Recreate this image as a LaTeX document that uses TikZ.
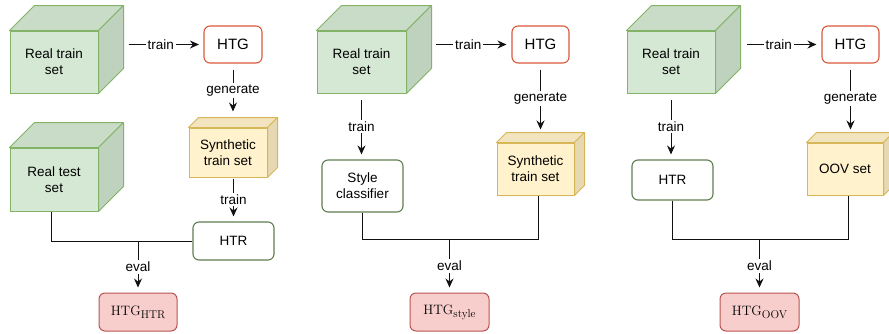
\documentclass[tikz,border=0pt]{standalone}
\usepackage{fontspec}
\newfontfamily\hv{Liberation Sans}
\usetikzlibrary{arrows.meta,calc}
\definecolor{gfront}{HTML}{D5E8D4}
\definecolor{gtop}{HTML}{C9DCC7}
\definecolor{gside}{HTML}{BFD2BD}
\definecolor{gline}{HTML}{82B366}
\definecolor{yfront}{HTML}{FFF2CC}
\definecolor{ytop}{HTML}{F2E4BE}
\definecolor{yside}{HTML}{E6D8B3}
\definecolor{yline}{HTML}{D6B656}
\definecolor{htgline}{HTML}{D9583A}
\definecolor{htrline}{HTML}{5E7D50}
\definecolor{rfill}{HTML}{F8CECC}
\definecolor{rline}{HTML}{B85450}
\definecolor{ink}{HTML}{111111}
\newcommand\cubefaces[4]{%
  \filldraw[#3] (#1.north west) -- ++(#2,-#2) -- ($(#1.north east)+(#2,-#2)$) -- (#1.north east) -- cycle;
  \filldraw[#4] (#1.north east) -- ++(#2,-#2) -- ($(#1.south east)+(#2,-#2)$) -- (#1.south east) -- cycle;}
\newcommand\htgsub[1]{{\fontsize{13.6}{16}\selectfont HTG}\raisebox{-2.8pt}{\fontsize{11.3}{13}\selectfont #1}}
\begin{document}
\begin{tikzpicture}[x=1pt,y=-1pt,
  txt/.style={font=\hv\fontsize{13.5}{16}\selectfont, align=center, text=black},
  face/.style={txt, draw, line width=1pt, inner sep=0pt},
  gface/.style={face, fill=gfront, draw=gline},
  yface/.style={face, fill=yfront, draw=yline},
  gtopf/.style={fill=gtop, draw=gline, line width=1pt, line join=round},
  gsidef/.style={fill=gside, draw=gline, line width=1pt, line join=round},
  ytopf/.style={fill=ytop, draw=yline, line width=1pt, line join=round},
  ysidef/.style={fill=yside, draw=yline, line width=1pt, line join=round},
  htgbox/.style={txt, font=\hv\fontsize{15}{18}\selectfont, draw=htgline, fill=white, line width=1.1pt, rounded corners=6pt, inner sep=0pt},
  htrbox/.style={txt, draw=htrline, fill=white, line width=1.1pt, rounded corners=6pt, inner sep=0pt},
  resbox/.style={draw=rline, fill=rfill, line width=1pt, rounded corners=6pt, inner sep=0pt, text=black},
  ln/.style={draw=ink, line width=1pt},
  arr/.style={ln, -{Stealth[length=9pt,width=8pt,inset=3pt]}},
  lbl/.style={txt, fill=white, inner sep=2pt}
]
\useasboundingbox (0,0) rectangle (889,333);

% ---------- panel 1 ----------
\node[gface, minimum width=88pt, minimum height=62pt] (rts1) at (54,62) {Real train\\set};
\cubefaces{rts1}{25}{gtopf}{gsidef}
\node[gface, minimum width=88pt, minimum height=63pt] (rtest1) at (54,179.5) {Real test\\set};
\cubefaces{rtest1}{25}{gtopf}{gsidef}
\node[htgbox, minimum width=58pt, minimum height=37pt] (htg1) at (233,44.5) {HTG};
\node[yface, minimum width=78pt, minimum height=49pt] (syn1) at (228,152.5) {Synthetic\\train set};
\cubefaces{syn1}{10}{ytopf}{ysidef}
\node[htrbox, minimum width=81pt, minimum height=38pt] (htr1) at (233.5,241) {HTR};
\node[resbox, minimum width=78pt, minimum height=38pt] (res1) at (138,312) {\htgsub{HTR}};
\coordinate (syn1top) at ($(syn1.north)+(0,-10)$);
\coordinate (bus1) at (0,239);

\draw[arr, shorten >=4.5pt] ($(rts1.east |- htg1.west)+(30,0)$) -- node[lbl, pos=0.43]{train} (htg1.west);
\draw[arr, shorten <=6pt, shorten >=6pt] (htg1.south) -- node[lbl]{generate} (htg1.south |- syn1top);
\draw[arr, shorten <=1pt, shorten >=5pt] (htr1.north |- syn1.south) -- node[lbl]{train} (htr1.north);
\draw[ln] ($(rtest1.south)+(-3,0)$) |- (htr1.west);
\draw[arr, shorten >=5pt] (res1.north |- htr1.west) -- node[lbl]{eval} (res1.north);

% ---------- panel 2 ----------
\node[gface, minimum width=89pt, minimum height=62pt] (rts2) at (361.5,62) {Real train\\set};
\cubefaces{rts2}{25}{gtopf}{gsidef}
\node[htgbox, minimum width=57pt, minimum height=37pt] (htg2) at (540.5,44.5) {HTG};
\node[yface, minimum width=77pt, minimum height=52pt] (syn2) at (535.5,169) {Synthetic\\train set};
\cubefaces{syn2}{10}{ytopf}{ysidef}
\node[htrbox, minimum width=81pt, minimum height=52pt] (sc2) at (362.5,186) {Style\\classifier};
\node[resbox, minimum width=79pt, minimum height=38pt] (res2) at (449.5,312) {\htgsub{style}};
\coordinate (syn2top) at ($(syn2.north)+(0,-9)$);
\coordinate (bus2) at (0,239);

\draw[arr, shorten >=5pt] ($(rts2.east |- htg2.west)+(29,0)$) -- node[lbl, pos=0.43]{train} (htg2.west);
\draw[arr, shorten <=6pt, shorten >=4pt] (htg2.south) -- node[lbl]{generate} (htg2.south |- syn2top);
\draw[arr, shorten <=6pt, shorten >=5pt] (rts2.south) -- node[lbl]{train} (rts2.south |- sc2.north);
\draw[ln] (sc2.south) |- ($(bus2 -| syn2.south)+(2.5,0)$) -- ($(syn2.south)+(2.5,0)$);
\draw[arr, shorten >=5pt] (bus2 -| res2.north) -- node[lbl]{eval} (res2.north);

% ---------- panel 3 ----------
\node[gface, minimum width=88pt, minimum height=62pt] (rts3) at (671,62) {Real train\\set};
\cubefaces{rts3}{25}{gtopf}{gsidef}
\node[htgbox, minimum width=57pt, minimum height=37pt] (htg3) at (850.5,44.5) {HTG};
\node[yface, minimum width=76pt, minimum height=52pt] (oov3) at (845,169) {OOV set};
\cubefaces{oov3}{10}{ytopf}{ysidef}
\node[htrbox, minimum width=81pt, minimum height=40pt] (htr3) at (672.5,180) {HTR};
\node[resbox, minimum width=79pt, minimum height=38pt] (res3) at (759.5,312) {\htgsub{OOV}};
\coordinate (oov3top) at ($(oov3.north)+(0,-9)$);
\coordinate (bus3) at (0,239);

\draw[arr, shorten >=5pt] ($(rts3.east |- htg3.west)+(31,0)$) -- node[lbl, pos=0.43]{train} (htg3.west);
\draw[arr, shorten <=6pt, shorten >=4pt] (htg3.south) -- node[lbl]{generate} (htg3.south |- oov3top);
\draw[arr, shorten <=6pt, shorten >=5pt] (rts3.south) -- node[lbl]{train} (rts3.south |- htr3.north);
\draw[ln] (htr3.south) |- ($(bus3 -| oov3.south)+(3,0)$) -- ($(oov3.south)+(3,0)$);
\draw[arr, shorten >=5pt] (bus3 -| res3.north) -- node[lbl]{eval} (res3.north);
\end{tikzpicture}
\end{document}
